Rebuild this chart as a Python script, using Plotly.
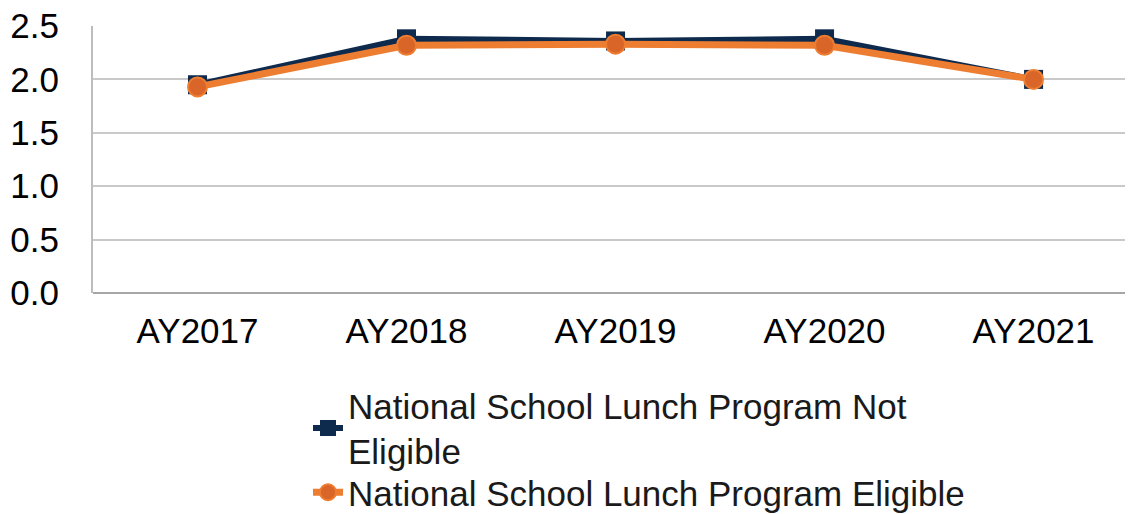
import plotly.graph_objects as go

years = ["AY2017", "AY2018", "AY2019", "AY2020", "AY2021"]
not_eligible = [1.95, 2.38, 2.36, 2.38, 2.00]
eligible = [1.93, 2.32, 2.33, 2.32, 2.00]
y_ticks = [0, 0.5, 1.0, 1.5, 2.0, 2.5]

NAVY = "#0E2A4D"
ORANGE = "#ED7D31"
FONT = "Liberation Sans, Arial, sans-serif"

fig = go.Figure()
fig.add_trace(go.Scatter(
    x=years, y=not_eligible, mode="lines+markers",
    name="National School Lunch Program Not<br>Eligible",
    line=dict(color=NAVY, width=6),
    marker=dict(symbol="square", size=19, color=NAVY),
    legend="legend",
))
fig.add_trace(go.Scatter(
    x=years, y=eligible, mode="lines+markers",
    name="National School Lunch Program Eligible",
    line=dict(color=ORANGE, width=7),
    marker=dict(symbol="circle", size=19, color="#DA6528", line=dict(color=ORANGE, width=2)),
    legend="legend2",
))

legend_common = dict(
    xref="container", yref="container", xanchor="left", yanchor="top",
    font=dict(size=35, color="#1a1a1a"), bgcolor="rgba(0,0,0,0)",
)

fig.update_layout(
    width=1133, height=514,
    margin=dict(l=85, r=0, t=18, b=229, autoexpand=False),
    paper_bgcolor="white", plot_bgcolor="white",
    font=dict(family=FONT, size=35, color="#000000"),
    showlegend=True,
    legend=dict(x=300 / 1133, y=1 - 368 / 514, **legend_common),
    legend2=dict(x=300 / 1133, y=1 - 455 / 514, **legend_common),
    xaxis=dict(
        type="category", range=[-0.5, 4.514], automargin=False,
        showgrid=False, showline=False, ticks="", tickangle=0,
        ticklabelstandoff=14, ticklabeloverflow="allow",
        tickfont=dict(size=35, color="#000000"),
    ),
    yaxis=dict(
        range=[0, 2.5], tickvals=y_ticks, tickformat=".1f", automargin=False,
        showgrid=True, gridcolor="#C9C9C9", gridwidth=2,
        showline=True, linecolor="#BDBDBD", linewidth=2,
        zeroline=True, zerolinecolor="#A6A6A6", zerolinewidth=2,
        ticks="", ticklabelstandoff=25, ticklabeloverflow="allow",
        tickfont=dict(size=35, color="#000000"),
    ),
)

fig.write_html("out.html")
